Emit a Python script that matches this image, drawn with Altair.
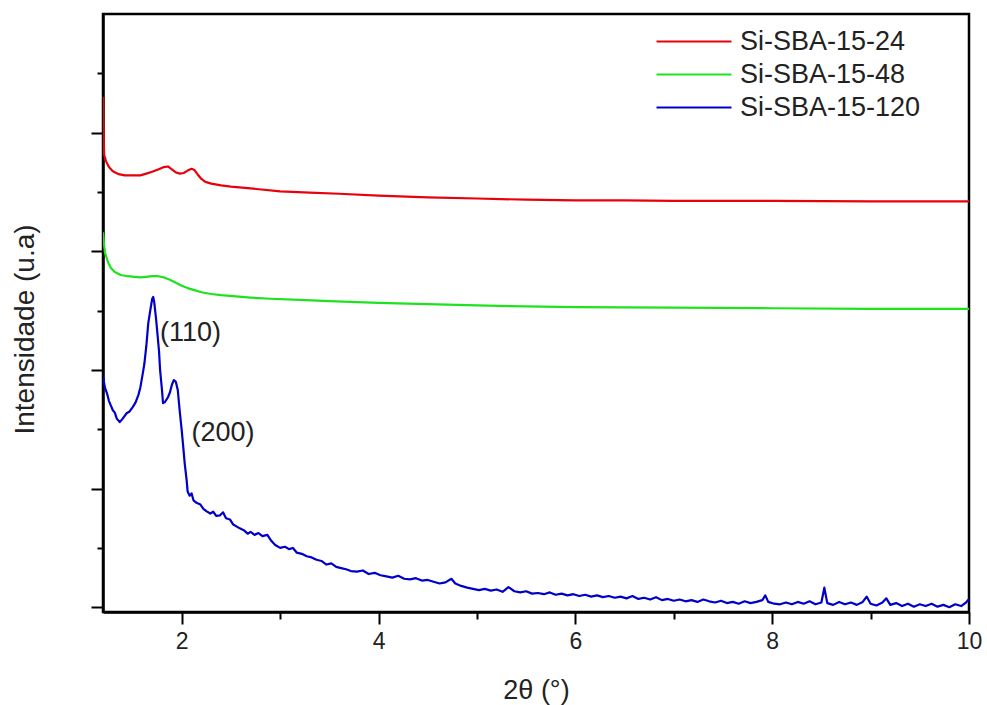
import altair as alt
import pandas as pd

# ---------------- data ----------------
series_names = ["Si-SBA-15-24", "Si-SBA-15-48", "Si-SBA-15-120"]
series_colors = ["#e8000b", "#1ee21e", "#0000c8"]
series_widths = [2.2, 2.2, 2.8]

red_x = [1.200, 1.206, 1.212, 1.22, 1.23, 1.26, 1.30, 1.36, 1.42, 1.50, 1.58, 1.64, 1.70,
         1.76, 1.82, 1.86, 1.90, 1.94, 1.98, 2.02, 2.06, 2.10, 2.13, 2.16, 2.20, 2.24, 2.30,
         2.40, 2.50, 2.70, 3.00, 3.30, 3.60, 4.00, 4.50, 5.00, 5.50, 6.00, 6.50, 7.00, 8.00,
         9.00, 10.0]
red_y = [8.60, 8.00, 7.62, 7.58, 7.52, 7.42, 7.35, 7.30, 7.28, 7.28, 7.28, 7.31, 7.34,
         7.38, 7.42, 7.43, 7.38, 7.33, 7.31, 7.32, 7.36, 7.39, 7.37, 7.30, 7.22, 7.17, 7.14,
         7.11, 7.09, 7.06, 7.01, 6.99, 6.97, 6.94, 6.91, 6.89, 6.87, 6.86, 6.86, 6.85, 6.85,
         6.84, 6.84]

green_x = [1.200, 1.21, 1.22, 1.25, 1.28, 1.32, 1.38, 1.45, 1.52, 1.58, 1.64, 1.70, 1.76,
           1.82, 1.88, 1.94, 2.00, 2.06, 2.12, 2.20, 2.30, 2.40, 2.55, 2.70, 2.90, 3.20,
           3.50, 4.00, 4.50, 5.00, 5.50, 6.00, 7.00, 8.00, 9.00, 10.0]
green_y = [6.32, 6.12, 5.98, 5.82, 5.72, 5.65, 5.60, 5.58, 5.57, 5.56, 5.57, 5.58, 5.58,
           5.56, 5.52, 5.47, 5.42, 5.38, 5.35, 5.31, 5.28, 5.26, 5.24, 5.22, 5.20, 5.18,
           5.16, 5.13, 5.11, 5.09, 5.07, 5.06, 5.05, 5.04, 5.03, 5.03]

blue_x = [1.20, 1.22, 1.24, 1.26, 1.28, 1.30, 1.32, 1.34, 1.37, 1.40, 1.44, 1.47, 1.50, 1.53,
          1.56, 1.58, 1.60, 1.62, 1.64, 1.66, 1.68, 1.70, 1.71, 1.72, 1.74, 1.75, 1.77, 1.78,
          1.80, 1.81, 1.83, 1.86, 1.88, 1.90, 1.92, 1.94, 1.96, 1.98, 2.00, 2.02, 2.03, 2.05,
          2.06, 2.08, 2.10, 2.12, 2.15, 2.19, 2.22, 2.25, 2.29, 2.32, 2.35, 2.39, 2.42, 2.45,
          2.49, 2.52, 2.56, 2.59, 2.63, 2.67, 2.70, 2.74, 2.78, 2.82, 2.87, 2.91, 2.95, 3.00,
          3.05, 3.09, 3.13, 3.17, 3.22, 3.27, 3.32, 3.37, 3.42, 3.47, 3.52, 3.57, 3.62, 3.67,
          3.72, 3.78, 3.84, 3.90, 3.96, 4.02, 4.08, 4.14, 4.20, 4.26, 4.32, 4.38, 4.44, 4.50,
          4.56, 4.62, 4.68, 4.74, 4.78, 4.84, 4.90, 4.96, 5.02, 5.08, 5.14, 5.20, 5.26, 5.32,
          5.38, 5.44, 5.50, 5.56, 5.62, 5.68, 5.74, 5.80, 5.86, 5.92, 5.98, 6.04, 6.10, 6.16,
          6.22, 6.28, 6.34, 6.40, 6.46, 6.52, 6.58, 6.64, 6.70, 6.76, 6.82, 6.88, 6.94, 7.00,
          7.06, 7.12, 7.18, 7.24, 7.30, 7.36, 7.42, 7.48, 7.54, 7.60, 7.66, 7.72, 7.78, 7.84,
          7.90, 7.93, 7.96, 8.02, 8.08, 8.14, 8.20, 8.26, 8.32, 8.38, 8.44, 8.50, 8.53, 8.56,
          8.62, 8.68, 8.74, 8.80, 8.86, 8.92, 8.96, 9.00, 9.06, 9.12, 9.16, 9.20, 9.26, 9.32,
          9.38, 9.44, 9.50, 9.56, 9.62, 9.68, 9.74, 9.80, 9.86, 9.92, 9.97, 10.0]
blue_y = [3.88, 3.70, 3.61, 3.48, 3.40, 3.32, 3.28, 3.18, 3.12, 3.18, 3.27, 3.30, 3.37, 3.45,
          3.58, 3.71, 3.90, 4.10, 4.40, 4.79, 5.00, 5.20, 5.23, 5.15, 4.85, 4.67, 4.30, 4.00,
          3.65, 3.44, 3.46, 3.54, 3.62, 3.75, 3.83, 3.80, 3.66, 3.30, 2.98, 2.62, 2.43, 2.14,
          1.95, 1.88, 1.92, 1.80, 1.76, 1.73, 1.66, 1.62, 1.58, 1.61, 1.54, 1.55, 1.60, 1.50,
          1.48, 1.40, 1.36, 1.33, 1.30, 1.24, 1.27, 1.22, 1.25, 1.20, 1.22, 1.12, 1.05, 1.00,
          1.02, 0.98, 1.00, 0.92, 0.90, 0.86, 0.84, 0.80, 0.78, 0.72, 0.74, 0.68, 0.66, 0.64,
          0.61, 0.60, 0.62, 0.56, 0.58, 0.54, 0.52, 0.50, 0.53, 0.48, 0.47, 0.49, 0.45, 0.46,
          0.43, 0.40, 0.42, 0.48, 0.40, 0.36, 0.33, 0.31, 0.29, 0.31, 0.28, 0.30, 0.26, 0.34,
          0.27, 0.25, 0.27, 0.23, 0.24, 0.22, 0.25, 0.21, 0.23, 0.20, 0.22, 0.19, 0.21, 0.18,
          0.20, 0.17, 0.19, 0.16, 0.18, 0.15, 0.19, 0.14, 0.16, 0.13, 0.17, 0.12, 0.14, 0.11,
          0.13, 0.10, 0.12, 0.09, 0.13, 0.10, 0.08, 0.11, 0.07, 0.09, 0.06, 0.10, 0.07, 0.09,
          0.12, 0.20, 0.09, 0.06, 0.05, 0.08, 0.05, 0.09, 0.06, 0.10, 0.05, 0.08, 0.33, 0.07,
          0.04, 0.09, 0.05, 0.08, 0.04, 0.09, 0.18, 0.06, 0.03, 0.08, 0.15, 0.04, 0.07, 0.02,
          0.06, 0.01, 0.05, 0.02, 0.06, 0.01, 0.04, 0.00, 0.05, 0.02, 0.08, 0.14]

peak_labels = ["(110)", "(200)"]
peak_x = [1.78, 2.10]
peak_y = [4.62, 2.93]

x_major = [2, 4, 6, 8, 10]
x_minor = [3, 5, 7, 9]
y_major = [0, 2, 4, 6, 8]
y_minor = [1, 3, 5, 7, 9]

# ---------------- tables ----------------
rows = []
for name, xs, ys in zip(series_names, [red_x, green_x, blue_x], [red_y, green_y, blue_y]):
    for i, (xv, yv) in enumerate(zip(xs, ys)):
        rows.append({"series": name, "x": xv, "y": yv, "order": i})
df = pd.DataFrame(rows)
ann_df = pd.DataFrame({"label": peak_labels, "x": peak_x, "y": peak_y})

FONT = "Liberation Sans"
x_scale = alt.Scale(domain=[1.2, 10], nice=False, zero=False)
y_scale = alt.Scale(domain=[-0.08, 10], nice=False, zero=False)

lines = alt.Chart(df).mark_line(clip=True, strokeJoin="round").encode(
    x=alt.X("x:Q", scale=x_scale, axis=alt.Axis(
        orient="bottom", values=x_major, format="d", grid=False,
        tickSize=12, tickWidth=2, tickColor="black",
        domainColor="black", domainWidth=2.5,
        labelFont=FONT, labelFontSize=23, labelColor="#222", labelPadding=6,
        labelFlush=False,
        title="2θ (°)", titleFont=FONT, titleFontSize=27, titleFontWeight="normal",
        titleColor="#222", titleX=433, titleY=78, titleBaseline="middle", titleAlign="center")),
    y=alt.Y("y:Q", scale=y_scale, axis=alt.Axis(
        orient="left", values=y_major, labels=False, grid=False,
        tickSize=12, tickWidth=2, tickColor="black",
        domainColor="black", domainWidth=2.5,
        title="Intensidade (u.a)", titleFont=FONT, titleFontSize=28, titleFontWeight="normal",
        titleColor="#222", titleX=-78, titleY=315, titleAngle=270,
        titleBaseline="middle", titleAlign="center")),
    color=alt.Color("series:N", scale=alt.Scale(domain=series_names, range=series_colors),
                    legend=alt.Legend(
                        title=None, orient="none", legendX=552, legendY=11,
                        symbolType="M-1,0H4", symbolSize=900, symbolStrokeWidth=2,
                        labelFont=FONT, labelFontSize=27, labelColor="#222",
                        labelLimit=0, labelOffset=52, rowPadding=3, padding=0)),
    strokeWidth=alt.StrokeWidth("series:N", scale=alt.Scale(domain=series_names, range=series_widths),
                                legend=None),
    order="order:Q",
)

ann = alt.Chart(ann_df).mark_text(align="left", baseline="middle", font=FONT,
                                  fontSize=27, color="#222").encode(
    x=alt.X("x:Q", scale=x_scale, axis=alt.Axis(
        orient="bottom", values=x_minor, labels=False, domain=False, grid=False,
        tickSize=7, tickWidth=2, tickColor="black", title=None)),
    y=alt.Y("y:Q", scale=y_scale, axis=alt.Axis(
        orient="left", values=y_minor, labels=False, domain=False, grid=False,
        tickSize=6, tickWidth=2, tickColor="black", title=None)),
    text="label:N",
)

chart = alt.layer(lines, ann).resolve_axis(x="independent", y="independent").properties(
    width=866, height=598,
    autosize=alt.AutoSizeParams(type="none"),
    padding={"left": 103, "top": 14, "right": 18, "bottom": 93},
    background="white",
).configure_view(stroke="black", strokeWidth=2.5)

chart.save("out.html", embed_options={"renderer": "svg", "actions": False})
